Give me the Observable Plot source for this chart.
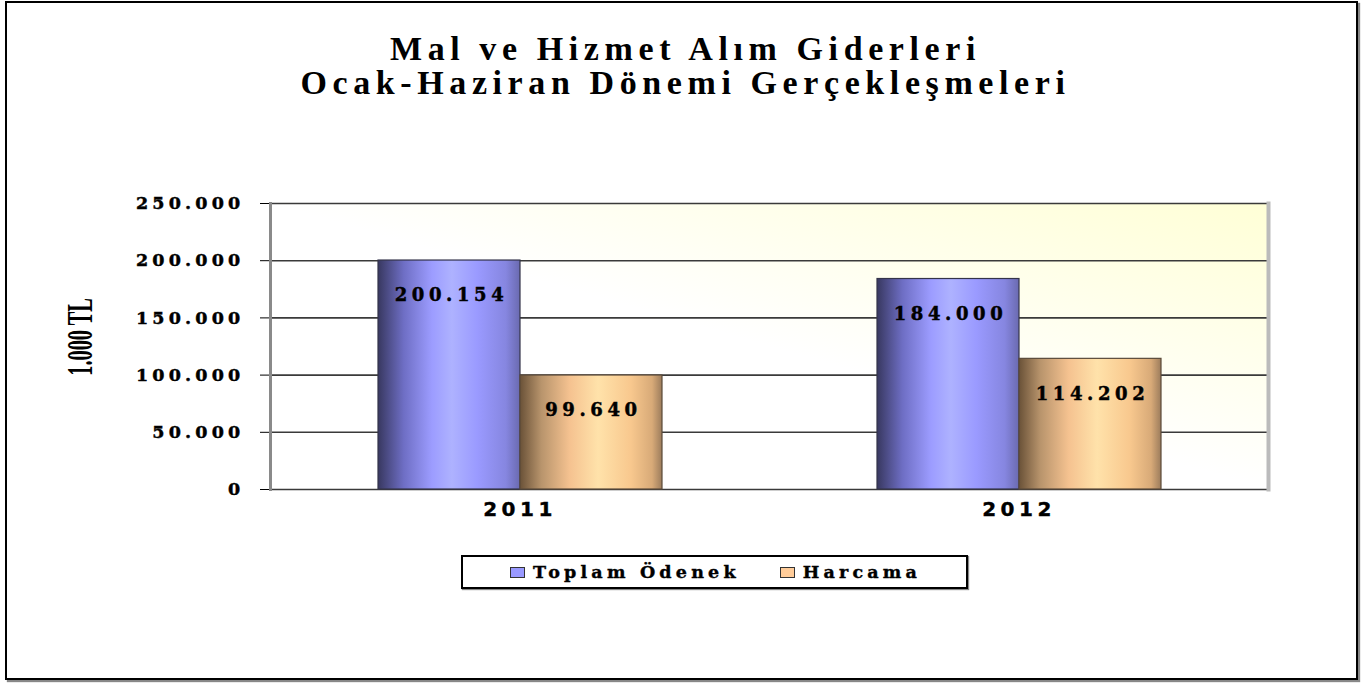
<!DOCTYPE html>
<html><head><meta charset="utf-8">
<script src="https://cdn.jsdelivr.net/npm/d3@7"></script>
<script src="https://cdn.jsdelivr.net/npm/@observablehq/plot@0.6"></script>
<style>
html,body{margin:0;padding:0;background:#fff;}
#page{position:relative;width:1369px;height:683px;overflow:hidden;background:#fff;}
#border{position:absolute;left:5px;top:1px;width:1349px;height:675px;border:2.5px solid #000;box-shadow:2px 2px 1px #888;}
#title{position:absolute;left:1px;top:32px;width:1369px;text-align:center;font-family:"Liberation Serif",serif;font-weight:bold;font-size:34px;line-height:34px;letter-spacing:5.6px;color:#000;}
#ylabel{position:absolute;left:81px;top:337px;transform:translate(-50%,-50%) rotate(-90deg) scaleX(0.58);font-family:"Liberation Serif",serif;font-weight:bold;font-size:35px;white-space:nowrap;color:#000;}
#chart{position:absolute;left:0;top:150px;}
#legend{position:absolute;left:461px;top:555px;width:503px;height:30px;border:2px solid #000;box-shadow:1px 1px 1px #888;display:flex;align-items:center;font-family:"DejaVu Serif",serif;font-weight:bold;font-size:17.5px;letter-spacing:4.2px;color:#000;box-sizing:content-box;-webkit-text-stroke:0.4px #000;}
#legend .sw{display:inline-block;width:13px;height:9px;border:1.5px solid #333;margin-right:8px;}
#chart g[aria-label="y-axis tick label"]{font-family:"DejaVu Serif",serif !important;font-weight:bold !important;font-size:17.5px !important;letter-spacing:4.2px;}
#chart g[aria-label="y-axis tick label"] text{stroke:#000;stroke-width:0.45px;}
#chart g[aria-label="fx-axis tick label"]{font-family:"DejaVu Sans",sans-serif !important;font-weight:bold !important;font-size:20px !important;letter-spacing:4.5px;}
#chart g[aria-label="fx-axis tick label"] text{stroke:#000;stroke-width:0.4px;}
#chart g[aria-label="text"]{letter-spacing:4.6px;}
#chart g[aria-label="text"] text{stroke:#000;stroke-width:0.45px;}
</style>
</head><body>
<svg width="0" height="0" style="position:absolute">
 <defs>
  <linearGradient id="bgGrad" x1="0" y1="1" x2="1" y2="0">
   <stop offset="0" stop-color="#ffffff"/>
   <stop offset="0.5" stop-color="#ffffff"/>
   <stop offset="1" stop-color="#ffffd6"/>
  </linearGradient>
  <linearGradient id="gradT" x1="0" y1="0" x2="1" y2="0">
   <stop offset="0" stop-color="#383860"/>
   <stop offset="0.18" stop-color="#6e6ec4"/>
   <stop offset="0.38" stop-color="#9c9cff"/>
   <stop offset="0.52" stop-color="#aeb2ff"/>
   <stop offset="0.7" stop-color="#9a9aff"/>
   <stop offset="0.9" stop-color="#8686e0"/>
   <stop offset="1" stop-color="#6a6ab0"/>
  </linearGradient>
  <linearGradient id="gradH" x1="0" y1="0" x2="1" y2="0">
   <stop offset="0" stop-color="#6a5238"/>
   <stop offset="0.15" stop-color="#b8946c"/>
   <stop offset="0.35" stop-color="#f5c290"/>
   <stop offset="0.55" stop-color="#ffe2aa"/>
   <stop offset="0.78" stop-color="#f8c88e"/>
   <stop offset="0.93" stop-color="#d8aa78"/>
   <stop offset="1" stop-color="#9c7c5c"/>
  </linearGradient>
 </defs>
</svg>
<div id="page">
 <div id="border"></div>
 <div id="title">Mal ve Hizmet Alım Giderleri<br>Ocak-Haziran Dönemi Gerçekleşmeleri</div>
 <div id="ylabel">1.000 TL</div>
 <div id="chart"></div>
 <div id="legend"><span class="sw" style="background:#9999ff;margin-left:47px"></span><span>Toplam Ödenek</span><span class="sw" style="background:#ffcc99;margin-left:40px"></span><span>Harcama</span></div>
</div>
<script>
const years = ["2011", "2012"];
const series = ["Toplam Ödenek", "Harcama"];
const toplamOdenek = [200154, 184000];
const harcama = [99640, 114202];
const yTicks = [0, 50000, 100000, 150000, 200000, 250000];

const rows = years.flatMap((y, i) => [
  {year: y, series: series[0], value: toplamOdenek[i]},
  {year: y, series: series[1], value: harcama[i]}
]);
const fmt = d3.formatLocale({decimal: ",", thousands: ".", grouping: [3], currency: ["", ""]}).format(",");

const chart = Plot.plot({
  width: 1369, height: 400,
  marginTop: 53, marginBottom: 61, marginLeft: 270, marginRight: 101,
  style: {background: "transparent", overflow: "visible", color: "#000"},
  fx: {domain: years, padding: 0, label: null, tickSize: 0, tickPadding: 12, axis: "bottom"},
  x: {domain: series, paddingInner: 0, paddingOuter: 0.745, axis: null},
  y: {domain: [0, 250000], ticks: yTicks, tickSize: 10, tickPadding: 16, tickFormat: fmt, label: null},
  marks: [
    Plot.frame({facet: "super", fill: "url(#bgGrad)", stroke: "none"}),
    Plot.ruleY(yTicks, {stroke: "#3a3a3a", strokeWidth: 1.6}),
    Plot.frame({facet: "super", anchor: "left", stroke: "#8a8a8a", strokeWidth: 3}),
    Plot.frame({facet: "super", anchor: "right", stroke: "#bbbbbb", strokeWidth: 4}),
    Plot.barY(rows.filter(d => d.series === series[0]), {fx: "year", x: "series", y: "value", fill: "url(#gradT)", stroke: "#34344a", strokeWidth: 1.2}),
    Plot.barY(rows.filter(d => d.series === series[1]), {fx: "year", x: "series", y: "value", fill: "url(#gradH)", stroke: "#5a4a3a", strokeWidth: 1.2}),
    Plot.text(rows, {fx: "year", x: "series", y: "value", text: d => fmt(d.value), dy: 35, dx: 2, fontSize: 18, fontWeight: "bold", fontFamily: "DejaVu Serif", fill: "#000"})
  ]
});
document.getElementById("chart").appendChild(chart);
</script>
</body></html>
